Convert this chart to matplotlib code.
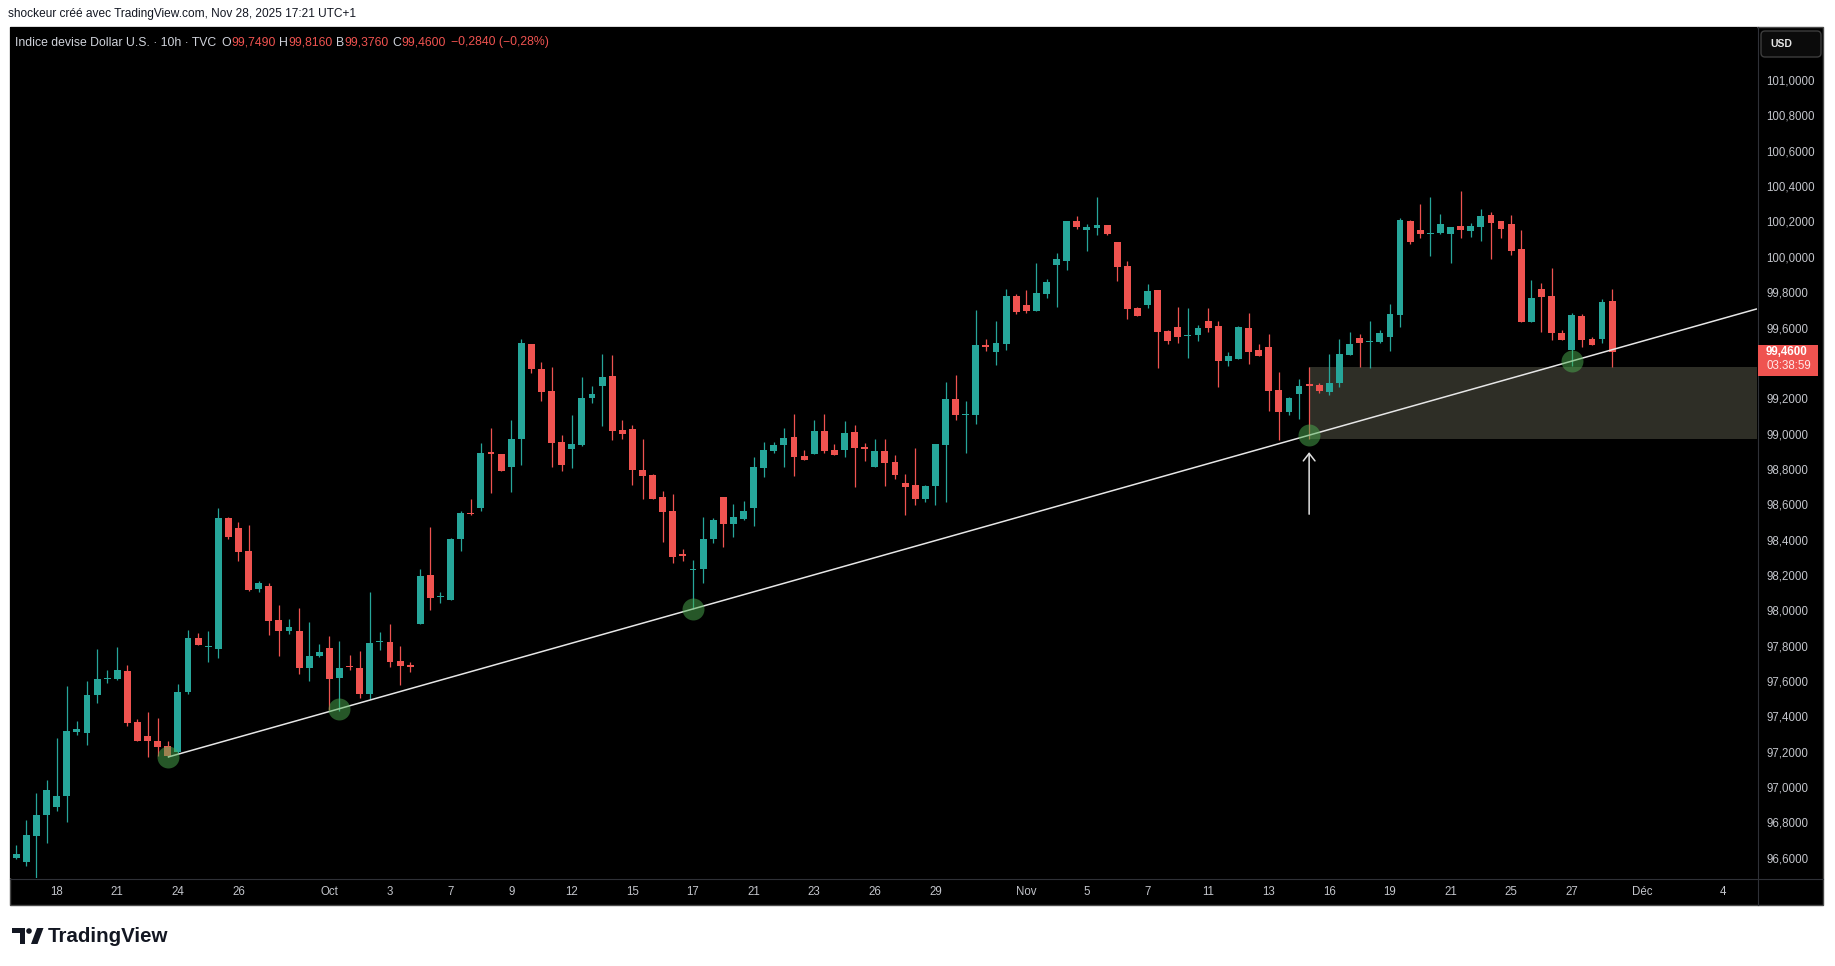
import numpy as np
import matplotlib
matplotlib.use("Agg")
import matplotlib.pyplot as plt
from matplotlib import font_manager as fm
from matplotlib.patches import Rectangle, FancyBboxPatch, Polygon, Circle
from matplotlib.lines import Line2D
from matplotlib.transforms import IdentityTransform

W, H = 1835, 966

# bougies 10h DXY (O, H, B, C)
opens = [96.600, 96.577, 96.726, 96.843, 96.889, 96.951, 97.313, 97.307, 97.522, 97.614,
         97.613, 97.658, 97.369, 97.290, 97.262, 97.234, 97.200, 97.539, 97.844, 97.790,
         97.782, 98.523, 98.467, 98.337, 98.122, 98.139, 97.946, 97.884, 97.884, 97.675,
         97.743, 97.788, 97.618, 97.680, 97.675, 97.529, 97.820, 97.822, 97.714, 97.692,
         97.924, 98.201, 98.074, 98.059, 98.404, 98.551, 98.580, 98.891, 98.885, 98.812,
         98.970, 99.507, 99.366, 99.241, 98.953, 98.913, 98.936, 99.202, 99.270, 99.326,
         99.021, 99.026, 98.795, 98.766, 98.642, 98.563, 98.314, 98.227, 98.235, 98.405,
         98.642, 98.489, 98.518, 98.580, 98.806, 98.902, 98.936, 98.981, 98.874, 98.885,
         99.015, 98.908, 98.908, 99.010, 98.925, 98.812, 98.902, 98.840, 98.721, 98.710,
         98.631, 98.704, 98.936, 99.196, 99.106, 99.106, 99.502, 99.462, 99.507, 99.779,
         99.728, 99.694, 99.790, 99.954, 99.977, 100.203, 100.154, 100.165, 100.180, 100.084,
         99.948, 99.711, 99.728, 99.813, 99.581, 99.603, 99.553, 99.558, 99.637, 99.609,
         99.411, 99.422, 99.598, 99.473, 99.490, 99.247, 99.123, 99.224, 99.276, 99.276,
         99.236, 99.287, 99.446, 99.542, 99.519, 99.519, 99.547, 99.672, 100.204, 100.153,
         100.130, 100.136, 100.130, 100.175, 100.147, 100.170, 100.237, 100.204, 100.187, 100.045,
         99.632, 99.819, 99.779, 99.570, 99.474, 99.666, 99.536, 99.536, 99.749]
highs = [96.670, 96.815, 96.968, 97.041, 97.279, 97.573, 97.373, 97.601, 97.782, 97.663,
         97.794, 97.692, 97.386, 97.426, 97.392, 97.262, 97.584, 97.890, 97.873, 97.884,
         98.580, 98.529, 98.501, 98.484, 98.167, 98.156, 98.031, 97.952, 98.014, 97.935,
         97.811, 97.856, 97.827, 97.748, 97.771, 98.105, 97.878, 97.924, 97.799, 97.709,
         98.235, 98.472, 98.105, 98.410, 98.563, 98.631, 98.947, 99.032, 98.885, 99.077,
         99.536, 99.507, 99.405, 99.377, 98.993, 99.106, 99.321, 99.270, 99.451, 99.445,
         99.077, 99.049, 98.970, 98.772, 98.676, 98.659, 98.348, 98.286, 98.529, 98.523,
         98.642, 98.602, 98.619, 98.868, 98.953, 98.953, 99.032, 99.112, 98.908, 99.078,
         99.112, 98.942, 99.072, 99.049, 98.947, 98.970, 98.970, 98.880, 98.772, 98.919,
         98.710, 98.942, 99.293, 99.332, 99.185, 99.700, 99.536, 99.637, 99.818, 99.790,
         99.813, 99.965, 99.875, 100.022, 100.203, 100.231, 100.186, 100.339, 100.180, 100.084,
         99.977, 99.717, 99.847, 99.813, 99.586, 99.717, 99.711, 99.615, 99.711, 99.637,
         99.462, 99.609, 99.683, 99.507, 99.564, 99.349, 99.208, 99.309, 99.378, 99.287,
         99.451, 99.536, 99.576, 99.564, 99.638, 99.587, 99.734, 100.221, 100.209, 100.300,
         100.339, 100.243, 100.170, 100.373, 100.192, 100.271, 100.254, 100.204, 100.237, 100.153,
         99.870, 99.853, 99.938, 99.587, 99.683, 99.678, 99.547, 99.760, 99.816]
lows = [96.591, 96.555, 96.450, 96.685, 96.864, 96.804, 97.296, 97.239, 97.477, 97.590,
        97.607, 97.347, 97.262, 97.171, 97.175, 97.170, 97.194, 97.528, 97.805, 97.709,
        97.731, 98.404, 98.280, 98.110, 98.105, 97.861, 97.743, 97.867, 97.641, 97.601,
        97.737, 97.439, 97.433, 97.665, 97.507, 97.496, 97.778, 97.682, 97.575, 97.654,
        97.924, 98.003, 98.042, 98.059, 98.336, 98.540, 98.563, 98.664, 98.789, 98.670,
        98.823, 99.343, 99.185, 98.812, 98.789, 98.806, 98.930, 99.174, 99.043, 98.964,
        98.970, 98.710, 98.631, 98.631, 98.388, 98.269, 98.280, 98.005, 98.156, 98.382,
        98.359, 98.416, 98.512, 98.478, 98.755, 98.891, 98.812, 98.761, 98.851, 98.885,
        98.891, 98.880, 98.868, 98.699, 98.846, 98.812, 98.704, 98.744, 98.540, 98.597,
        98.614, 98.597, 98.614, 99.078, 98.891, 99.055, 99.468, 99.389, 99.473, 99.677,
        99.683, 99.694, 99.767, 99.717, 99.926, 100.158, 100.033, 100.124, 100.124, 99.864,
        99.649, 99.666, 99.711, 99.372, 99.507, 99.513, 99.428, 99.524, 99.575, 99.264,
        99.383, 99.422, 99.394, 99.439, 99.128, 98.964, 99.106, 99.083, 98.967, 99.231,
        99.219, 99.265, 99.446, 99.378, 99.372, 99.514, 99.468, 99.604, 100.073, 100.107,
        100.006, 100.130, 99.966, 100.107, 100.113, 100.090, 99.989, 100.107, 100.011, 99.632,
        99.632, 99.576, 99.530, 99.530, 99.383, 99.491, 99.502, 99.513, 99.376]
closes = [96.623, 96.730, 96.843, 96.985, 96.951, 97.318, 97.330, 97.522, 97.613, 97.618,
          97.663, 97.364, 97.262, 97.262, 97.228, 97.177, 97.539, 97.844, 97.805, 97.794,
          98.523, 98.416, 98.331, 98.116, 98.156, 97.941, 97.884, 97.907, 97.675, 97.743,
          97.765, 97.613, 97.675, 97.677, 97.529, 97.816, 97.825, 97.709, 97.686, 97.677,
          98.195, 98.071, 98.082, 98.404, 98.551, 98.546, 98.891, 98.887, 98.789, 98.970,
          99.513, 99.366, 99.236, 98.947, 98.823, 98.942, 99.202, 99.224, 99.321, 99.015,
          98.998, 98.795, 98.761, 98.631, 98.557, 98.303, 98.310, 98.235, 98.405, 98.512,
          98.489, 98.529, 98.563, 98.812, 98.908, 98.936, 98.976, 98.868, 98.851, 99.015,
          98.902, 98.880, 99.004, 98.919, 98.910, 98.902, 98.834, 98.767, 98.699, 98.631,
          98.704, 98.942, 99.196, 99.106, 99.112, 99.502, 99.492, 99.513, 99.779, 99.688,
          99.694, 99.796, 99.858, 99.988, 100.203, 100.169, 100.169, 100.180, 100.129, 99.943,
          99.705, 99.666, 99.807, 99.575, 99.524, 99.547, 99.558, 99.598, 99.598, 99.411,
          99.439, 99.603, 99.462, 99.439, 99.241, 99.123, 99.202, 99.270, 99.272, 99.242,
          99.287, 99.451, 99.508, 99.513, 99.525, 99.570, 99.678, 100.209, 100.085, 100.130,
          100.136, 100.187, 100.170, 100.153, 100.175, 100.232, 100.192, 100.158, 100.034, 99.632,
          99.768, 99.774, 99.570, 99.530, 99.672, 99.530, 99.502, 99.744, 99.460]

# axe du temps (index de bougie -> libellé)
date_pos = [4, 10, 16, 22, 31, 37, 43, 49, 55, 61, 67, 73, 79, 85, 91,
            100, 106, 112, 118, 124, 130, 136, 142, 148, 154, 161, 169]
date_labels = ["18", "21", "24", "26", "Oct", "3", "7", "9", "12", "15", "17", "21", "23", "26", "29",
               "Nov", "5", "7", "11", "13", "16", "19", "21", "25", "27", "Déc", "4"]
price_ticks = [96.6, 96.8, 97.0, 97.2, 97.4, 97.6, 97.8, 98.0, 98.2, 98.4, 98.6, 98.8,
               99.0, 99.2, 99.6, 99.8, 100.0, 100.2, 100.4, 100.6, 100.8, 101.0]

# dessins : oblique haussière, zone, flèche
trend_idx = [15, 154]
trend_px = [97.17, 99.41]
touch_idx = [15, 32, 67, 128, 154]
zone_start = 128
zone_top = 99.378
zone_bottom = 98.967
arrow_idx = 128
arrow_from = 98.544
arrow_to = 98.895
countdown = "03:38:59"

UP = "#26a69a"
DN = "#ef5350"
TXT = "#d1d4dc"
AXT = "#c3c5cb"
SEP = "#2f3137"

names = {f.name for f in fm.fontManager.ttflist}
NARROW = "Liberation Sans Narrow" if "Liberation Sans Narrow" in names else "Liberation Sans"
REG = "Liberation Sans"

fig = plt.figure(figsize=(W / 100, H / 100), dpi=100, facecolor="white")
ident = IdentityTransform()

# cadre noir du graphique
frame = Rectangle((9.5, H - 905), 1823 - 9.5, 905 - 27, transform=ident,
                  facecolor="black", edgecolor="#4a4a4a", lw=1, zorder=-1)
fig.add_artist(frame)

ax = fig.add_axes([9.5 / W, (H - 878) / H, (1757 - 9.5) / W, (878 - 27) / H])
ax.set_facecolor("black")
for s in ax.spines.values():
    s.set_visible(False)

xmin, xmax = -0.67, 172.34
ymin, ymax = 96.486, 101.30
ax.set_xlim(xmin, xmax)
ax.set_ylim(ymin, ymax)

o = np.array(opens)
h = np.array(highs)
l = np.array(lows)
c = np.array(closes)
x = np.arange(len(c))
col = np.where(c >= o, UP, DN)

# zone
ax.add_patch(Rectangle((zone_start, zone_bottom), xmax - zone_start, zone_top - zone_bottom,
                       facecolor="#2e2e26", edgecolor="none", zorder=1))

ax.vlines(x, l, h, colors=col, linewidth=0.9, zorder=3)
body_lo = np.minimum(o, c)
body_h = np.maximum(np.abs(c - o), 0.006)
ax.bar(x, body_h, bottom=body_lo, width=0.68, color=col, linewidth=0, zorder=4)

# oblique
slope = (trend_px[1] - trend_px[0]) / (trend_idx[1] - trend_idx[0])
ax.plot([trend_idx[0], xmax], [trend_px[0], trend_px[0] + slope * (xmax - trend_idx[0])],
        color="#e6e6e6", lw=1.1, zorder=5, solid_capstyle="butt")
touch_y = [trend_px[0] + slope * (i - trend_idx[0]) for i in touch_idx]
ax.scatter(touch_idx, touch_y, s=250, color="#4caf50", alpha=0.5, lw=0, zorder=6)

ax.annotate("", xy=(arrow_idx, arrow_to), xytext=(arrow_idx, arrow_from),
            arrowprops=dict(arrowstyle="->,head_length=0.45,head_width=0.35", color="#e0e0e0",
                            lw=1.1, shrinkA=0, shrinkB=0, mutation_scale=12), zorder=7)

# axes
ax.yaxis.tick_right()
ax.set_yticks(price_ticks)
ax.set_yticklabels([f"{v:.4f}".replace(".", ",") for v in price_ticks])
ax.tick_params(axis="y", length=0, pad=6.5, labelsize=8.3, labelcolor=AXT)
ax.set_xticks(date_pos)
ax.set_xticklabels(date_labels)
ax.tick_params(axis="x", length=0, pad=6, labelsize=8.3, labelcolor=AXT)
for lab in ax.get_xticklabels() + ax.get_yticklabels():
    lab.set_fontfamily(REG)

# séparateurs
fig.add_artist(Line2D([1757.5, 1757.5], [H - 27, H - 905], transform=ident, color=SEP, lw=0.8, zorder=3))
fig.add_artist(Line2D([9.5, 1823], [H - 878.5, H - 878.5], transform=ident, color=SEP, lw=0.8, zorder=3))

# étiquette du dernier prix
last = closes[-1]
yl = ax.transData.transform((0, last))[1]
fig.add_artist(Rectangle((1757.7, yl - 23.5), 60, 30.5, transform=ident,
                         facecolor=DN, edgecolor="none", zorder=5))
fig.text(1766 / W, yl / H, f"{last:.4f}".replace(".", ","), color="white", fontsize=8.3,
         fontweight="bold", family=REG, va="center", ha="left", zorder=6)
fig.text(1766 / W, (yl - 14) / H, countdown, color="#ffe8e8", fontsize=8.3,
         family=REG, va="center", ha="left", zorder=6)

# bouton USD
fig.add_artist(FancyBboxPatch((1761, H - 57), 60, 26, boxstyle="round,pad=0,rounding_size=4",
                              transform=ident, facecolor="#0b0b0b", edgecolor="#3d3d3d", lw=1, zorder=5))
fig.text(1770 / W, (H - 44) / H, "USD", color="#e6e6e6", fontsize=7.5, fontweight="bold",
         family=REG, va="center", ha="left", zorder=6)

# en-têtes
fig.text(8 / W, 1 - 14 / H, "shockeur créé avec TradingView.com, Nov 28, 2025 17:21 UTC+1",
         color="#131722", fontsize=8.6, family=NARROW, va="center", ha="left")

renderer = fig.canvas.get_renderer()


def fmt(v):
    return f"{v:.4f}".replace(".", ",")


chg = closes[-1] - closes[-2]
pct = chg / closes[-2] * 100
vcol = DN if closes[-1] < opens[-1] else UP
chg_txt = (f"{chg:+.4f} ({pct:+.2f}%)").replace(".", ",").replace("-", "\u2212")
pieces = [("Indice devise Dollar U.S. · 10h · TVC", TXT, 5),
          ("O", TXT, 0), (fmt(opens[-1]), vcol, 4),
          ("H", TXT, 0), (fmt(highs[-1]), vcol, 4),
          ("B", TXT, 0), (fmt(lows[-1]), vcol, 4),
          ("C", TXT, 0), (fmt(closes[-1]), vcol, 5),
          (chg_txt, vcol, 0)]
xp = 15
for s, colr, gap in pieces:
    t = fig.text(xp / W, 1 - 42.5 / H, s, color=colr, fontsize=8.8, family=NARROW,
                 va="center", ha="left", zorder=6)
    bb = t.get_window_extent(renderer=renderer)
    xp = bb.x1 + gap

# logo TradingView
ink = "#131722"
fig.add_artist(Polygon([[12, H - 928], [25, H - 928], [25, H - 944], [19.5, H - 944],
                        [19.5, H - 933], [12, H - 933]], closed=True, transform=ident,
                       facecolor=ink, edgecolor="none"))
fig.add_artist(Circle((29, H - 931), 2.8, transform=ident, facecolor=ink, edgecolor="none"))
fig.add_artist(Polygon([[31, H - 944], [37, H - 928], [43.5, H - 928], [37.5, H - 944]],
                       closed=True, transform=ident, facecolor=ink, edgecolor="none"))
fig.text(48 / W, 1 - 936 / H, "TradingView", color=ink, fontsize=14.8, fontweight="bold",
         family=REG, va="center", ha="left")

fig.savefig("out.png", dpi=100, facecolor="white")
